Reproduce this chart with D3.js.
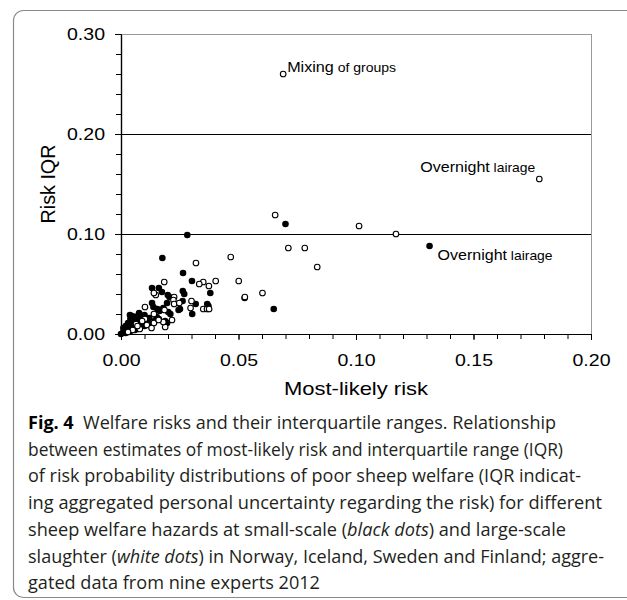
<!DOCTYPE html>
<html>
<head>
<meta charset="utf-8">
<script src="https://cdn.jsdelivr.net/npm/d3@7"></script>
<style>
  body { margin: 0; background: #fff; }
  svg { display: block; }
</style>
</head>
<body>
<svg id="chart" width="627" height="600"></svg>
<script>
// small-scale slaughter (black dots): [most-likely risk, risk IQR]
const smallScale = [
  [0.0282, 0.099], [0.070, 0.110], [0.1313, 0.088], [0.0176, 0.076],
  [0.0264, 0.061], [0.0302, 0.053], [0.038, 0.041], [0.0526, 0.036],
  [0.065, 0.025], [0.0367, 0.030], [0.0372, 0.028], [0.0318, 0.030],
  [0.0303, 0.020], [0.0251, 0.025], [0.0263, 0.043], [0.0269, 0.040],
  [0.0262, 0.033], [0.0132, 0.046], [0.0161, 0.046], [0.0174, 0.042],
  [0.0199, 0.039], [0.0206, 0.037], [0.0132, 0.031], [0.0138, 0.027],
  [0.0155, 0.025], [0.0164, 0.023], [0.018, 0.026], [0.0201, 0.022],
  [0.021, 0.020], [0.0196, 0.031], [0.0152, 0.017], [0.0161, 0.015],
  [0.0188, 0.013], [0.0196, 0.011], [0.0077, 0.021], [0.0047, 0.018],
  [0.0038, 0.019], [0.0072, 0.018], [0.009, 0.011], [0.0245, 0.024],
  [0.000, 0.000], [0.001, 0.002], [0.002, 0.004], [0.003, 0.006],
  [0.002, 0.008], [0.004, 0.003], [0.005, 0.009], [0.006, 0.012],
  [0.003, 0.011], [0.004, 0.015], [0.007, 0.006], [0.008, 0.012],
  [0.009, 0.017], [0.006, 0.004], [0.001, 0.006], [0.005, 0.006],
  [0.007, 0.015], [0.010, 0.008], [0.011, 0.013], [0.002, 0.001],
  [0.0035, 0.009], [0.0085, 0.009], [0.012, 0.016], [0.010, 0.019],
  [0.006, 0.017], [0.013, 0.010], [0.0145, 0.0135]
];

// large-scale slaughter (white dots)
const largeScale = [
  [0.069, 0.260], [0.178, 0.155], [0.0656, 0.119], [0.1013, 0.108],
  [0.117, 0.100], [0.0712, 0.086], [0.0782, 0.086], [0.0835, 0.067],
  [0.0467, 0.077], [0.0319, 0.071], [0.0501, 0.053], [0.0403, 0.053],
  [0.0350, 0.052], [0.0333, 0.050], [0.0374, 0.048], [0.0602, 0.041],
  [0.0527, 0.037], [0.0350, 0.025], [0.0366, 0.025], [0.0375, 0.025],
  [0.0296, 0.026], [0.0300, 0.033], [0.0184, 0.052], [0.0148, 0.039],
  [0.0140, 0.041], [0.0226, 0.037], [0.0223, 0.034], [0.0226, 0.030],
  [0.0248, 0.031], [0.0217, 0.014], [0.0188, 0.007], [0.0180, 0.012],
  [0.0140, 0.011], [0.0102, 0.027], [0.0102, 0.015], [0.0064, 0.010],
  [0.0140, 0.020], [0.0185, 0.024], [0.008, 0.005], [0.011, 0.009],
  [0.005, 0.004], [0.013, 0.006], [0.009, 0.013], [0.003, 0.002],
  [0.007, 0.008], [0.016, 0.014]
];

const labels = [
  {text: ["Mixing", " of groups"], x: 0.069, y: 0.260},
  {text: ["Overnight", " lairage"], x: 0.178, y: 0.155},
  {text: ["Overnight", " lairage"], x: 0.1313, y: 0.088}
];

const xLabelTicks = [0, 0.05, 0.10, 0.15, 0.20];
const yLabelTicks = [0, 0.10, 0.20, 0.30];
const gridValues = [0.10, 0.20];

const caption = [
  [["Fig. 4", true], ["  Welfare risks and their interquartile ranges. Relationship", false]],
  [["between estimates of most-likely risk and interquartile range (IQR)", false]],
  [["of risk probability distributions of poor sheep welfare (IQR indicat-", false]],
  [["ing aggregated personal uncertainty regarding the risk) for different", false]],
  [["sheep welfare hazards at small-scale (", false], ["black dots", "i"], [") and large-scale", false]],
  [["slaughter (", false], ["white dots", "i"], [") in Norway, Iceland, Sweden and Finland; aggre-", false]],
  [["gated data from nine experts 2012", false]]
];
const captionWidths = [528, 535, 553, 574, 538, 576, 292];

const svg = d3.select("#chart");
const font = "Arial, 'Liberation Sans', sans-serif";

// frame round the figure
svg.append("rect")
  .attr("x", 13.5).attr("y", 10.5)
  .attr("width", 700).attr("height", 587)
  .attr("rx", 10)
  .attr("fill", "none")
  .attr("stroke", "#8a8a8a")
  .attr("stroke-width", 1.2);

const x = d3.scaleLinear().domain([0, 0.20]).range([121, 591]);
const y = d3.scaleLinear().domain([0, 0.30]).range([334, 34]);

// plot box, top and right
svg.append("path")
  .attr("d", `M${x(0)},${y(0.3)}H${x(0.2)}V${y(0)}`)
  .attr("fill", "none")
  .attr("stroke", "#999")
  .attr("stroke-width", 1)
  .attr("shape-rendering", "crispEdges");

svg.append("g")
  .selectAll("line")
  .data(gridValues)
  .join("line")
  .attr("x1", x(0)).attr("x2", x(0.2))
  .attr("y1", d => y(d) + 0.5).attr("y2", d => y(d) + 0.5)
  .attr("stroke", "#000")
  .attr("stroke-width", 1)
  .attr("shape-rendering", "crispEdges");

// axes
const xMinor = d3.range(0, 21).map(i => i / 100);
const yMinor = d3.range(0, 16).map(i => i / 50);

svg.append("g")
  .attr("transform", `translate(0,${y(0)})`)
  .call(d3.axisBottom(x).tickValues(xMinor).tickFormat("").tickSize(5).tickSizeOuter(0));

const gx = svg.append("g")
  .attr("transform", `translate(0,${y(0)})`)
  .call(d3.axisBottom(x).tickValues(xLabelTicks).tickFormat(d3.format(".2f")).tickSize(6).tickPadding(10).tickSizeOuter(0));

svg.append("g")
  .attr("transform", `translate(${x(0)},0)`)
  .call(d3.axisLeft(y).tickValues(yMinor).tickFormat("").tickSize(5).tickSizeOuter(0));

const gy = svg.append("g")
  .attr("transform", `translate(${x(0)},0)`)
  .call(d3.axisLeft(y).tickValues(yLabelTicks).tickFormat(d3.format(".2f")).tickSize(6).tickPadding(10).tickSizeOuter(0));

svg.selectAll(".domain").attr("stroke", "#000").attr("stroke-width", 1.2);
svg.selectAll(".tick line").attr("stroke", "#000");

[gx, gy].forEach(g => g.selectAll("text")
  .attr("font-family", font)
  .attr("font-size", 17)
  .attr("fill", "#000")
  .attr("textLength", 38)
  .attr("lengthAdjust", "spacingAndGlyphs"));
gx.selectAll("text").attr("dy", "0.95em");

svg.append("text")
  .attr("transform", `translate(55,${(y(0.3) + y(0)) / 2}) rotate(-90)`)
  .attr("text-anchor", "middle")
  .attr("font-family", font)
  .attr("font-size", 21)
  .attr("textLength", 79)
  .attr("lengthAdjust", "spacingAndGlyphs")
  .text("Risk IQR");

svg.append("text")
  .attr("x", (x(0) + x(0.2)) / 2)
  .attr("y", 395)
  .attr("text-anchor", "middle")
  .attr("font-family", font)
  .attr("font-size", 19)
  .attr("textLength", 144)
  .attr("lengthAdjust", "spacingAndGlyphs")
  .text("Most-likely risk");

// points
svg.append("g")
  .selectAll("circle")
  .data(smallScale)
  .join("circle")
  .attr("cx", d => x(d[0]))
  .attr("cy", d => y(d[1]))
  .attr("r", 3.3)
  .attr("fill", "#000");

svg.append("g")
  .selectAll("circle")
  .data(largeScale)
  .join("circle")
  .attr("cx", d => x(d[0]))
  .attr("cy", d => y(d[1]))
  .attr("r", 2.8)
  .attr("fill", "#fff")
  .attr("stroke", "#000")
  .attr("stroke-width", 1.1);

// point labels
const labelPlace = [
  {dx: 4, dy: -2, anchor: "start", len: 109},
  {dx: -4, dy: -7, anchor: "end", len: 115},
  {dx: 8, dy: 14, anchor: "start", len: 115}
];
labels.forEach((l, i) => {
  const p = labelPlace[i];
  const t = svg.append("text")
    .attr("x", x(l.x) + p.dx)
    .attr("y", y(l.y) + p.dy)
    .attr("text-anchor", p.anchor)
    .attr("font-family", font)
    .attr("textLength", p.len)
    .attr("lengthAdjust", "spacingAndGlyphs");
  t.append("tspan").attr("font-size", 15).text(l.text[0]);
  t.append("tspan").attr("font-size", 13).text(l.text[1]);
});

// caption
const cap = svg.append("g");
caption.forEach((line, i) => {
  const t = cap.append("text")
    .attr("x", 28)
    .attr("y", 429 + i * 26.7)
    .attr("font-family", "'Open Sans', 'Noto Sans', sans-serif")
    .attr("font-size", 18)
    .attr("fill", "#231f20")
    .attr("textLength", captionWidths[i])
    .attr("lengthAdjust", "spacingAndGlyphs");
  line.forEach(([s, style]) => {
    const ts = t.append("tspan").text(s).attr("xml:space", "preserve");
    if (style === true) ts.attr("font-weight", "bold").attr("fill", "#000");
    if (style === "i") ts.attr("font-style", "italic");
  });
});
</script>
</body>
</html>
